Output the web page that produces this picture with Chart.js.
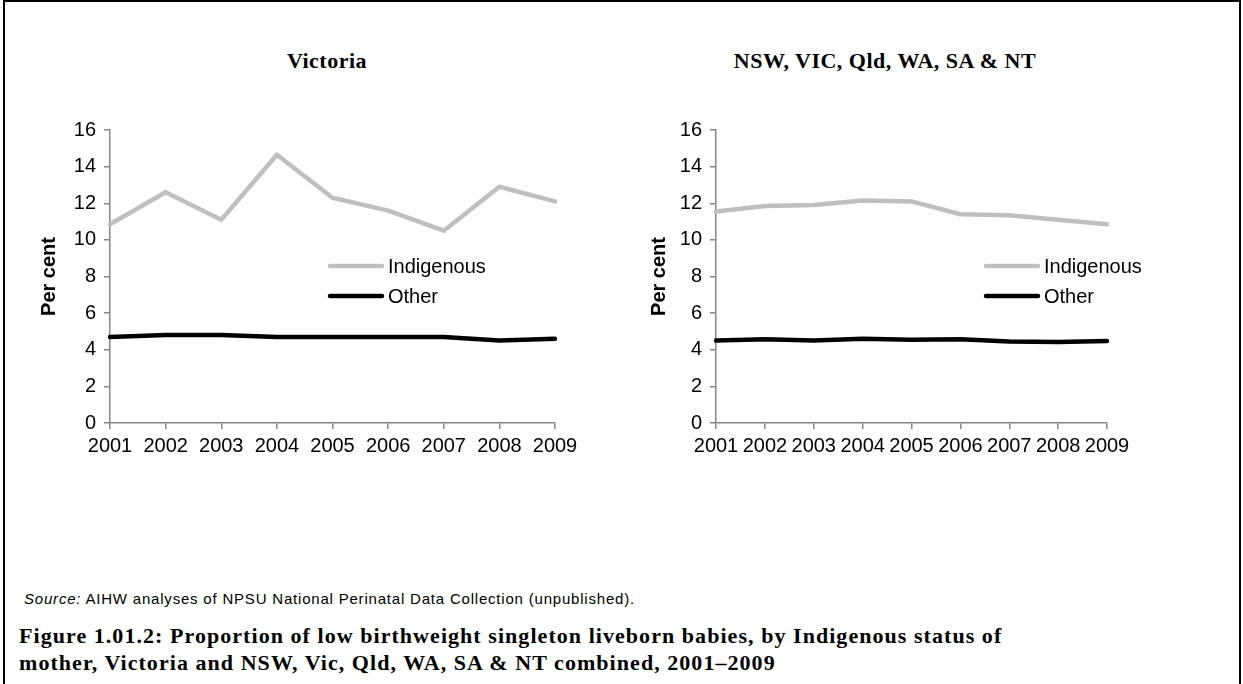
<!DOCTYPE html>
<html>
<head>
<meta charset="utf-8">
<script src="https://cdn.jsdelivr.net/npm/chart.js@4.4.0/dist/chart.umd.min.js"></script>
<style>
  html, body { margin: 0; padding: 0; background: #fff; }
  body { width: 1243px; height: 684px; position: relative; overflow: hidden; }
  .frame { position: absolute; left: 3px; top: 0; width: 1234px; height: 700px; border: 2px solid #000; border-bottom: none; }
  .ttl { position: absolute; font-family: "Liberation Serif", serif; font-weight: bold; font-size: 22px; letter-spacing: 0.5px; color: #000; text-align: center; width: 400px; }
  .src { position: absolute; left: 24px; top: 590px; font-family: "Liberation Sans", Arial, sans-serif; font-size: 15px; letter-spacing: 0.8px; color: #000; }
  .cap { position: absolute; left: 19px; top: 622px; font-family: "Liberation Serif", serif; font-weight: bold; font-size: 22px; letter-spacing: 1.05px; line-height: 27px; color: #000; white-space: nowrap; }
  canvas { position: absolute; }
</style>
</head>
<body>
<div class="frame"></div>
<div class="ttl" style="left:127px; top:48px;">Victoria</div>
<div class="ttl" style="left:685px; top:48px;">NSW, VIC, Qld, WA, SA &amp; NT</div>
<canvas id="vicChart" width="580" height="360" style="left:20px; top:110px;"></canvas>
<canvas id="allChart" width="540" height="360" style="left:630px; top:110px;"></canvas>
<div class="src"><i>Source:</i> AIHW analyses of NPSU National Perinatal Data Collection (unpublished).</div>
<div class="cap">Figure 1.01.2: Proportion of low birthweight singleton liveborn babies, by Indigenous status of<br>mother, Victoria and NSW, Vic, Qld, WA, SA &amp; NT combined, 2001–2009</div>

<script>
// --- DATA ---
const years = ['2001', '2002', '2003', '2004', '2005', '2006', '2007', '2008', '2009'];
const seriesNames = ['Indigenous', 'Other'];
const seriesColors = ['#BFBFBF', '#000000'];

// Victoria
const vicIndigenous = [10.85, 12.6, 11.1, 14.65, 12.3, 11.6, 10.5, 12.9, 12.1];
const vicOther = [4.7, 4.8, 4.8, 4.7, 4.7, 4.7, 4.7, 4.5, 4.6];

// NSW, VIC, Qld, WA, SA & NT
const allIndigenous = [11.55, 11.85, 11.9, 12.15, 12.1, 11.4, 11.35, 11.1, 10.85];
const allOther = [4.5, 4.58, 4.5, 4.6, 4.55, 4.58, 4.45, 4.42, 4.48];

const yTicks = [0, 2, 4, 6, 8, 10, 12, 14, 16];

// --- HJÆLPEFUNKTIONER ---
const FONT = '"Liberation Sans", Arial, sans-serif';
const AXIS_GREY = '#868686';

// legend drawn inside the plot, offset from the chart area's top-left corner
const inlineLegend = {
    id: 'inlineLegend',
    afterDraw(chart, args, opts) {
        const ctx = chart.ctx;
        const area = chart.chartArea;
        ctx.save();
        chart.data.datasets.forEach((ds, i) => {
            const x = area.left + opts.dx;
            const y = area.top + opts.dy + i * 30;
            ctx.strokeStyle = ds.borderColor;
            ctx.lineWidth = 4.5;
            ctx.lineCap = 'round';
            ctx.beginPath();
            ctx.moveTo(x, y);
            ctx.lineTo(x + 52, y);
            ctx.stroke();
            ctx.fillStyle = '#000';
            ctx.font = '20px ' + FONT;
            ctx.textBaseline = 'middle';
            ctx.fillText(ds.label, x + 58, y + 1);
        });
        ctx.restore();
    }
};

function makeChart(canvasId, indigenous, other, yAxisWidth, rightPad, legendDx) {
    const ctx = document.getElementById(canvasId).getContext('2d');
    return new Chart(ctx, {
        type: 'line',
        data: {
            labels: years,
            datasets: [
                { label: seriesNames[0], data: indigenous, borderColor: seriesColors[0], borderWidth: 4.5, pointRadius: 0, tension: 0, borderJoinStyle: 'round', borderCapStyle: 'round' },
                { label: seriesNames[1], data: other, borderColor: seriesColors[1], borderWidth: 4.5, pointRadius: 0, tension: 0, borderJoinStyle: 'round', borderCapStyle: 'round' }
            ]
        },
        options: {
            responsive: false,
            animation: false,
            layout: { padding: { top: 20, right: rightPad, left: 0, bottom: 0 } },
            plugins: {
                legend: { display: false },
                tooltip: { enabled: false },
                inlineLegend: { dx: legendDx, dy: 136 }
            },
            scales: {
                x: {
                    offset: false,
                    grid: { drawOnChartArea: false, drawTicks: true, tickLength: 6, color: AXIS_GREY, lineWidth: 1.5 },
                    border: { color: AXIS_GREY, width: 1.5 },
                    ticks: { font: { family: FONT, size: 20 }, color: '#000', maxRotation: 0, autoSkip: false, padding: 5 },
                    afterFit: (scale) => { scale.height = 47; }
                },
                y: {
                    min: 0, max: 16,
                    afterBuildTicks: (scale) => { scale.ticks = yTicks.map(v => ({ value: v })); },
                    grid: { drawOnChartArea: false, drawTicks: true, tickLength: 6, color: AXIS_GREY, lineWidth: 1.5 },
                    border: { color: AXIS_GREY, width: 1.5 },
                    ticks: { font: { family: FONT, size: 20 }, color: '#000', padding: 8 },
                    title: { display: true, text: 'Per cent', font: { family: FONT, size: 20, weight: 'bold' }, color: '#000', padding: { top: 17, bottom: 0 } },
                    afterFit: (scale) => { scale.width = yAxisWidth; }
                }
            }
        },
        plugins: [inlineLegend]
    });
}

makeChart('vicChart', vicIndigenous, vicOther, 90, 45, 220);
makeChart('allChart', allIndigenous, allOther, 86, 63, 270);
</script>
</body>
</html>
